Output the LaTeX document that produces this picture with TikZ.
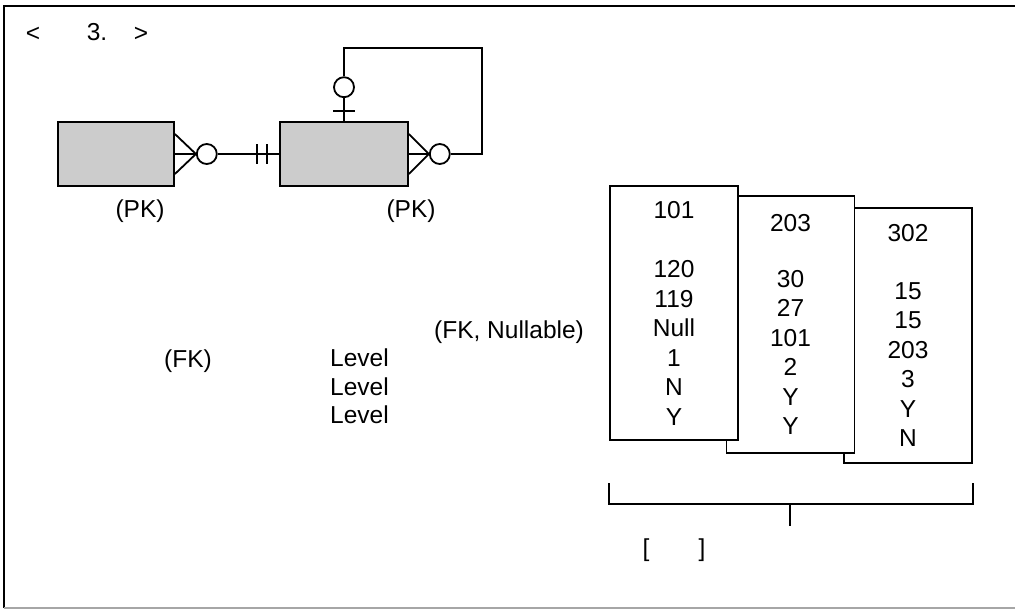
\documentclass[tikz,border=0pt]{standalone}
\usepackage{fontspec}
\setmainfont{Liberation Sans}
\usetikzlibrary{calc,positioning}
\newcommand{\labfont}{\fontsize{24.5}{29.5}\selectfont}
\tikzset{
  entity/.style={rectangle,draw,fill=black!20,line width=1.8pt,
    minimum height=64pt,inner sep=0pt},
  card/.style={rectangle,draw,fill=white,line width=1.8pt,
    minimum width=128pt,minimum height=255pt,align=center,inner sep=0pt,
    font=\labfont},
  % ER notation: ring = optional, bar = mandatory
  ring/.style={circle,draw,line width=1.8pt,minimum size=20pt,inner sep=0pt},
  lbl/.style={inner sep=0pt,font=\labfont},
  rel/.style={line width=1.8pt}
}

\begin{document}
\begin{tikzpicture}[x=1pt,y=-1pt]
  \useasboundingbox (0,0) rectangle (1015,610);
  \draw[line width=1.6pt] (1015,6) -- (4,6) -- (4,608);
  \draw[line width=1.6pt,black!35] (4,608) -- (1015,608);

  \node[lbl] (lt) at (33,34) {<};
  \node[lbl] (num) at (97,32) {3.};
  \node[lbl] (gt) at (141,34) {>};

  \node[entity,minimum width=116pt] (emp) at (116,154) {};
  \node[entity,minimum width=128pt] (boss) at (344,154) {};
  \node[lbl] (pk1) at (140,211) {(PK)};
  \node[lbl] (pk2) at (411,211) {(PK)};

  % emp >o-----|| boss
  \draw[rel] (emp.east) -- ++(21,0) coordinate (ft1);
  \draw[rel] ([yshift=20pt]emp.east) -- (ft1) -- ([yshift=-20pt]emp.east);
  \node[ring,right=0pt of ft1] (r1) {};
  \draw[rel] (r1) -- (boss);
  \foreach \dx in {-22,-12}
    \draw[rel] ([xshift=\dx pt,yshift=10pt]boss.west) -- ++(0,20);

  % boss to itself
  \node[ring,above=23pt of boss.north] (r3) {};
  \draw[rel] (boss.north) -- (r3.south);
  \draw[rel] ([yshift=10pt]boss.north) ++(-11,0) -- ++(22,0);
  \draw[rel] (boss.east) -- ++(20,0) coordinate (ft2);
  \draw[rel] ([yshift=20pt]boss.east) -- (ft2) -- ([yshift=-20pt]boss.east);
  \node[ring,right=0pt of ft2] (r4) {};
  \coordinate (loop) at (482,48);
  \draw[rel] (r3.north) |- (loop) |- (r4.east);

  \node[lbl] (fk) at (188,361) {(FK)};
  \foreach \i/\y in {1/358,2/387,3/415}
    \node[lbl,anchor=west] (lv\i) at (330,\y) {Level};
  \node[lbl] (fkn) at (509,332) {(FK, Nullable)};

  \node[card,minimum height=255pt] (c3) at (908,335.5) {302\\[28pt]15\\15\\203\\3\\Y\\N};
  \node[card,minimum height=257pt] (c2) at (790.5,324.5) {203\\[26pt]30\\27\\101\\2\\Y\\Y};
  \node[card,minimum height=254pt] (c1) at (674,313) {101\\[30pt]120\\119\\Null\\1\\N\\Y};

  \coordinate (brk) at (790,504);
  \coordinate (bl) at (c1.west |- brk);
  \coordinate (br) at (c3.east |- brk);
  \draw[rel] (bl) ++(0,-21) -- (bl) -- (br) -- ++(0,-21);
  \draw[rel] (brk) -- ++(0,22);
  \node[lbl] (lb) at (646,550) {[};
  \node[lbl] (rb) at (702,550) {]};
\end{tikzpicture}
\end{document}
